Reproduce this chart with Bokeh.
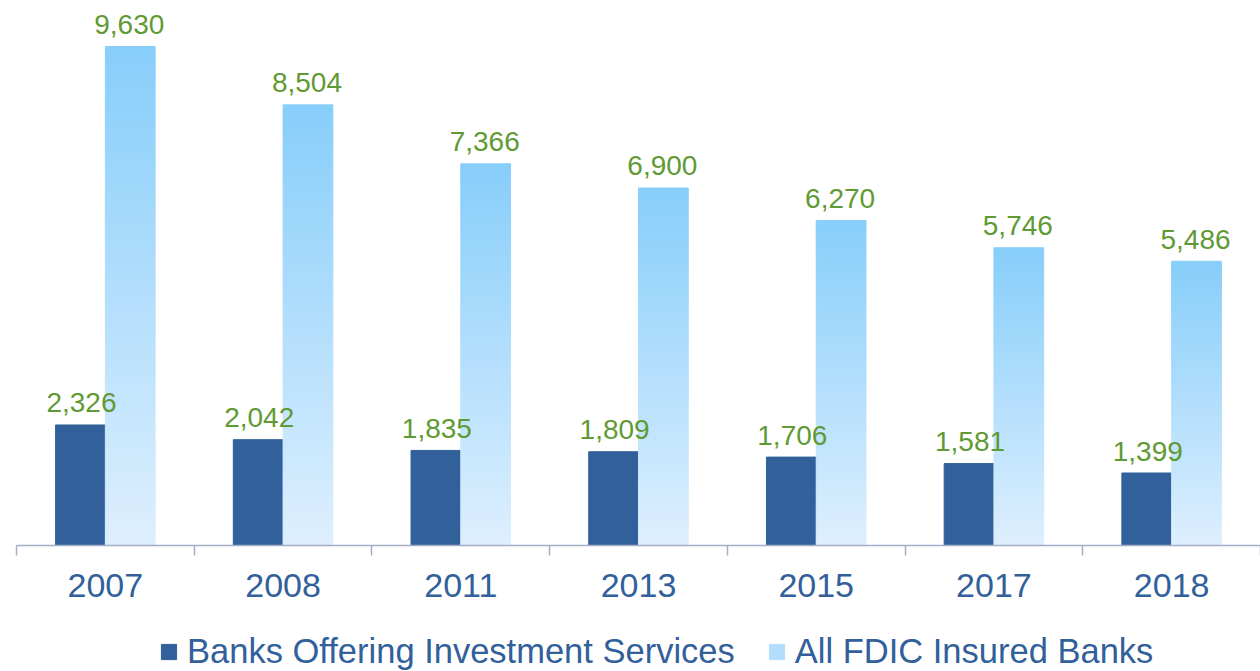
import numpy as np
from bokeh.plotting import figure
from bokeh.layouts import column
from bokeh.models import ColumnDataSource, FixedTicker, Range1d, Legend, LegendItem
from bokeh.embed import file_html
from bokeh.resources import INLINE
from bokeh.core.properties import value

# ---- data ----
years = ["2007", "2008", "2011", "2013", "2015", "2017", "2018"]
invest = [2326, 2042, 1835, 1809, 1706, 1581, 1399]
fdic = [9630, 8504, 7366, 6900, 6270, 5746, 5486]
series_names = ["Banks Offering Investment Services", "All FDIC Insured Banks"]

# ---- style ----
DARK = "#31609A"
TOP_C = np.array([0x87, 0xCE, 0xFA])
BOT_C = np.array([0xDE, 0xEF, 0xFE])
MID_C = "#b3defb"
GREEN = "#5F9A34"
TEXT_BLUE = "#31609A"
AXIS_C = "#A3AEC6"
FONT = "Liberation Sans"
BW = 0.28
N_SLICES = 60

n = len(years)
centers = np.arange(n) + 0.5
x_dark = centers - BW / 2
x_light = centers + BW / 2

p = figure(frame_width=1244, frame_height=545, x_range=Range1d(0, n), y_range=Range1d(0, 10518),
           output_backend="svg", toolbar_location=None,
           min_border_left=16, min_border_right=0, min_border_top=0, min_border_bottom=71)
p.yaxis.visible = False
p.xgrid.visible = False
p.ygrid.visible = False
p.outline_line_color = None

# dark bars
r_dark = p.vbar(x=x_dark, width=BW, top=invest, fill_color=DARK, line_color=DARK)

# gradient light bars, drawn as horizontal slices of each bar
gx, gb, gt, gc = [], [], [], []
for xi, v in zip(x_light, fdic):
    for k in range(N_SLICES):
        f = (k + 0.5) / N_SLICES
        c = BOT_C + (TOP_C - BOT_C) * f
        gx.append(xi)
        gb.append(v * k / N_SLICES)
        gt.append(v * (k + 1) / N_SLICES)
        gc.append("#%02x%02x%02x" % tuple(int(round(t)) for t in c))
gsrc = ColumnDataSource(dict(x=gx, bottom=gb, top=gt, color=gc))
r_light = p.vbar(x="x", width=BW, bottom="bottom", top="top", fill_color="color",
                 line_color="color", line_width=1, source=gsrc)

# value labels
p.text(x=x_dark, y=invest, text=[f"{v:,}" for v in invest], text_align="center",
       text_baseline="alphabetic", x_offset=1, y_offset=-22, text_font=value(FONT),
       text_font_size="28px", text_color=GREEN)
p.text(x=x_light, y=fdic, text=[f"{v:,}" for v in fdic], text_align="center",
       text_baseline="alphabetic", x_offset=-1, y_offset=-22, text_font=value(FONT),
       text_font_size="28px", text_color=GREEN)

# x axis: labels at centers, ticks at category boundaries
ax = p.xaxis[0]
ax.ticker = FixedTicker(ticks=list(centers), minor_ticks=list(range(n + 1)))
ax.major_label_overrides = {float(c): y for c, y in zip(centers, years)}
ax.major_tick_line_color = None
ax.major_tick_out = 0
ax.major_tick_in = 0
ax.minor_tick_out = 10
ax.minor_tick_in = 0
ax.minor_tick_line_color = AXIS_C
ax.minor_tick_line_width = 1.5
ax.axis_line_color = AXIS_C
ax.axis_line_width = 1.5
ax.major_label_text_font = FONT
ax.major_label_text_font_size = "34px"
ax.major_label_text_color = TEXT_BLUE
ax.major_label_standoff = 18

# legend strip below the chart
lg = figure(width=1260, height=55, x_range=Range1d(0, 1), y_range=Range1d(0, 1),
            output_backend="svg", toolbar_location=None,
            min_border_left=0, min_border_right=0, min_border_top=0, min_border_bottom=0)
lg.axis.visible = False
lg.grid.visible = False
lg.outline_line_color = None
# legend swatch renderers (kept outside the visible range of this strip)
proxy_dark = lg.vbar(x=[0.5], bottom=[-2], top=[-1], width=0.1, fill_color=DARK, line_color=DARK)
proxy_light = lg.vbar(x=[0.5], bottom=[-2], top=[-1], width=0.1, fill_color=MID_C, line_color=MID_C)
legend = Legend(items=[LegendItem(label=series_names[0], renderers=[proxy_dark]),
                       LegendItem(label=series_names[1], renderers=[proxy_light])],
                orientation="horizontal", location=(143, 0),
                border_line_color=None, background_fill_alpha=0,
                label_text_font=FONT, label_text_font_size="34.5px", label_text_color=TEXT_BLUE,
                glyph_width=19, glyph_height=19, label_standoff=9, spacing=32,
                padding=0, margin=0)
lg.add_layout(legend)

layout = column(p, lg, spacing=0)
open("out.html", "w").write(file_html(layout, INLINE))
